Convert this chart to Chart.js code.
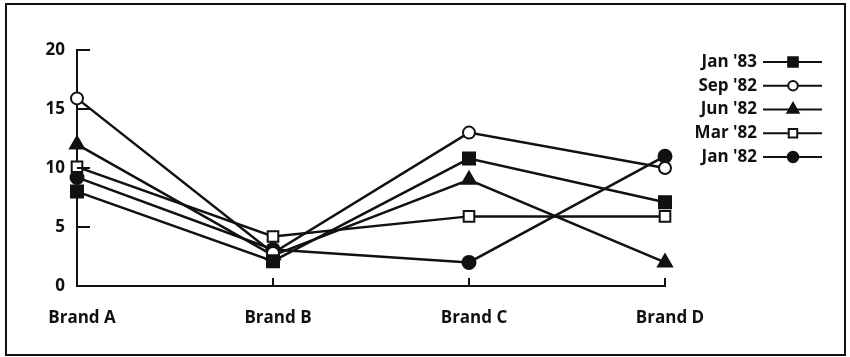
<!DOCTYPE html>
<html lang="en">
<head>
    <meta charset="UTF-8">
    <title>Brand Ratings</title>
    <script src="https://cdn.jsdelivr.net/npm/chart.js"></script>
    <style>
        body {
            margin: 0;
            background-color: #ffffff;
        }
        #wrap {
            position: relative;
            width: 850px;
            height: 357px;
        }
        #myChart {
            position: absolute;
            left: 0;
            top: 0;
        }
        #frame {
            position: absolute;
            left: 5px;
            top: 3px;
            width: 841px;
            height: 353px;
            box-sizing: border-box;
            border: 2px solid #111;
            pointer-events: none;
        }
    </style>
</head>
<body>

    <div id="wrap">
        <canvas id="myChart" width="850" height="357"></canvas>
        <div id="frame"></div>
    </div>

    <script>
        // Data
        const brands = ['Brand A', 'Brand B', 'Brand C', 'Brand D'];
        const yTicks = [0, 5, 10, 15, 20];

        const jan83 = [8.0, 2.1, 10.8, 7.1];
        const sep82 = [15.9, 2.8, 13.0, 10.0];
        const jun82 = [12.0, 2.6, 9.0, 2.0];
        const mar82 = [10.1, 4.2, 5.9, 5.9];
        const jan82 = [9.2, 3.1, 2.0, 11.0];

        const ink = '#111111';
        const labelFont = { family: '"Open Sans", sans-serif', size: 17, weight: 'bold' };

        function series(label, data, style, radius, filled) {
            return {
                label: label,
                data: data,
                borderColor: ink,
                borderWidth: 2.5,
                tension: 0,
                pointStyle: style,
                pointRadius: radius,
                pointHoverRadius: radius,
                pointBorderWidth: 2,
                pointBorderColor: ink,
                pointBackgroundColor: filled ? ink : '#ffffff'
            };
        }

        // inward tick marks on both axes
        const innerTicks = {
            id: 'innerTicks',
            afterDatasetsDraw(chart) {
                const { ctx, chartArea, scales } = chart;
                ctx.save();
                ctx.strokeStyle = ink;
                ctx.lineWidth = 2;
                ctx.beginPath();
                yTicks.slice(1).forEach(v => {
                    const py = scales.y.getPixelForValue(v);
                    ctx.moveTo(chartArea.left, py);
                    ctx.lineTo(chartArea.left + 13, py);
                });
                for (let i = 1; i < brands.length; i++) {
                    const px = scales.x.getPixelForValue(i);
                    ctx.moveTo(px, chartArea.bottom);
                    ctx.lineTo(px, chartArea.bottom - 8);
                }
                ctx.stroke();
                ctx.restore();
            }
        };

        // legend: label on the left, line sample with marker on the right
        const sideLegend = {
            id: 'sideLegend',
            afterDraw(chart) {
                const ctx = chart.ctx;
                ctx.save();
                ctx.font = 'bold 17px "Open Sans", sans-serif';
                ctx.textAlign = 'right';
                ctx.textBaseline = 'middle';
                chart.data.datasets.forEach((ds, i) => {
                    const y = 62 + i * 23.75;
                    ctx.fillStyle = ink;
                    ctx.fillText(ds.label, 757, y);
                    ctx.strokeStyle = ink;
                    ctx.lineWidth = 2;
                    ctx.beginPath();
                    ctx.moveTo(763, y);
                    ctx.lineTo(822, y);
                    ctx.stroke();
                    ctx.fillStyle = ds.pointBackgroundColor;
                    Chart.helpers.drawPoint(ctx, {
                        pointStyle: ds.pointStyle,
                        radius: ds.pointRadius * 0.8,
                        borderWidth: 2,
                        rotation: 0
                    }, 793, y);
                });
                ctx.restore();
            }
        };

        const ctx = document.getElementById('myChart').getContext('2d');
        new Chart(ctx, {
            type: 'line',
            data: {
                labels: brands,
                datasets: [
                    series("Jan '83", jan83, 'rect', 8.5, true),
                    series("Sep '82", sep82, 'circle', 6, false),
                    series("Jun '82", jun82, 'triangle', 8, true),
                    series("Mar '82", mar82, 'rect', 7.5, false),
                    series("Jan '82", jan82, 'circle', 6.5, true)
                ]
            },
            options: {
                responsive: false,
                animation: false,
                clip: false,
                layout: {
                    padding: { left: 27, right: 185, top: 50, bottom: 21 }
                },
                plugins: {
                    legend: { display: false },
                    tooltip: { enabled: false }
                },
                scales: {
                    x: {
                        offset: false,
                        grid: { display: false, drawTicks: false },
                        border: { display: true, color: ink, width: 2 },
                        ticks: { color: ink, font: labelFont, padding: 22, maxRotation: 0, labelOffset: 5 },
                        afterFit: s => { s.height = 50; }
                    },
                    y: {
                        min: 0,
                        max: 20,
                        grid: { display: false, drawTicks: false },
                        border: { display: true, color: ink, width: 2 },
                        ticks: { color: ink, font: labelFont, padding: 12, stepSize: 5 },
                        afterFit: s => { s.width = 50; }
                    }
                }
            },
            plugins: [innerTicks, sideLegend]
        });
    </script>
</body>
</html>
